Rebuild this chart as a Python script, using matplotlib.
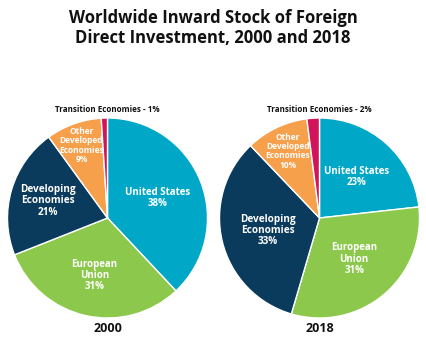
import numpy as np
import matplotlib.pyplot as plt

plt.rcParams['font.family'] = ['Open Sans', 'DejaVu Sans']

# data
regions = ["United States", "European Union", "Developing Economies",
           "Other Developed Economies", "Transition Economies"]
share_2000 = [38, 31, 21, 9, 1]
share_2018 = [23, 31, 33, 10, 2]
years = ["2000", "2018"]

# label text inside the wedges (line breaks as in the original)
inner_names = ["United States", "European\nUnion", "Developing\nEconomies",
               "Other\nDeveloped\nEconomies"]
colors = ["#00a7c7", "#8cc84b", "#0a3a5c", "#f7a04c", "#d2145a"]

# radial position (fraction of radius) of each inner label
label_r = {"2000": [0.54, 0.59, 0.62, 0.77],
           "2018": [0.55, 0.54, 0.53, 0.74]}
name_size = {"2000": [7, 7, 7.2, 6], "2018": [7, 7, 7.2, 6]}

fig = plt.figure(figsize=(4.26, 3.49), dpi=100)
W, H = 426, 349
R = 100

fig.text(0.5, 1 - 28 / H, "Worldwide Inward Stock of Foreign\nDirect Investment, 2000 and 2018",
         ha="center", va="center", fontsize=12, fontweight="bold", linespacing=1.15,
         color="#111111")

centers = [(107.5, 218), (319.5, 218)]
for (cx, cy), year, vals in zip(centers, years, [share_2000, share_2018]):
    ax = fig.add_axes([(cx - R) / W, (H - cy - R) / H, 2 * R / W, 2 * R / H])
    wedges, _ = ax.pie(vals, colors=colors, startangle=90, counterclock=False,
                       radius=1, wedgeprops=dict(edgecolor="white", linewidth=1))
    ax.set_xlim(-1, 1)
    ax.set_ylim(-1, 1)
    ax.set_aspect("equal")
    ax.axis("off")

    for i, name in enumerate(inner_names):
        w = wedges[i]
        ang = np.deg2rad((w.theta1 + w.theta2) / 2)
        r = label_r[year][i]
        ax.text(r * np.cos(ang), r * np.sin(ang), f"{name}\n{vals[i]}%",
                ha="center", va="center", color="white", fontweight="bold",
                fontsize=name_size[year][i], linespacing=1.05)

    ax.text(0, 1.04, f"Transition Economies - {vals[4]}%", ha="center", va="bottom",
            fontsize=5.8, fontweight="bold", color="#111111", clip_on=False)
    fig.text(cx / W, 1 - 328 / H, year, ha="center", va="center",
             fontsize=9, fontweight="bold", color="#111111")

fig.savefig("out.png", dpi=100)
